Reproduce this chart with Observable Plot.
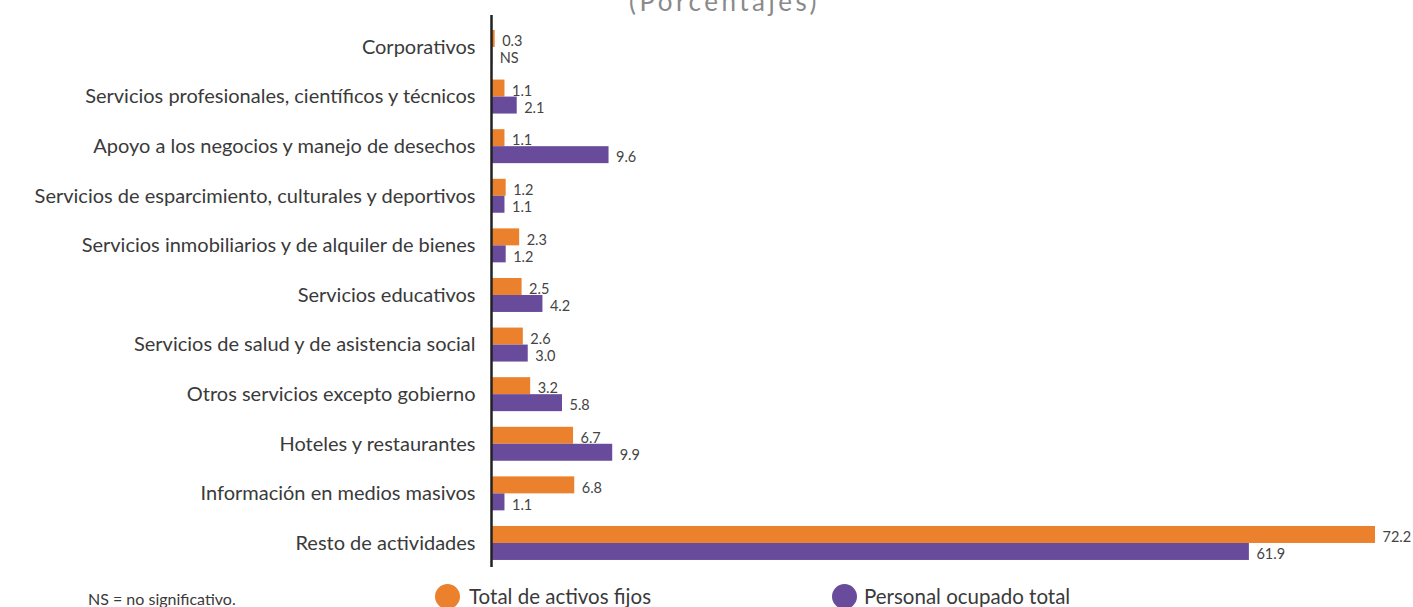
<!DOCTYPE html>
<html>
<head>
<meta charset="utf-8">
<script src="https://cdn.jsdelivr.net/npm/d3@7"></script>
<script src="https://cdn.jsdelivr.net/npm/@observablehq/plot@0.6"></script>
<style>
  html, body { margin: 0; padding: 0; background: #fff; overflow: hidden; }
  body { width: 1413px; height: 607px; position: relative; font-family: Lato, "Open Sans", sans-serif; }
  #title { position: absolute; left: 0; width: 1413px; top: -15px; text-align: center; padding-left: 36px; box-sizing: border-box;
           font-size: 26px; letter-spacing: 3.5px; color: #8a8a8a; z-index: 2; }
  #chart { position: absolute; left: 0; top: 0; }
  .leg { position: absolute; font-size: 20.5px; color: #3a3a3a; white-space: nowrap; }
  .dot { position: absolute; width: 25px; height: 25px; border-radius: 50%; }
  #note { position: absolute; left: 88px; top: 589px; font-size: 16px; color: #3a3a3a; }
</style>
</head>
<body>
<div id="title">(Porcentajes)</div>
<div id="chart"></div>
<div id="note">NS = no significativo.</div>
<div class="dot" style="left:435px; top:584px; background:#EB812D"></div>
<div class="leg" style="left:469px; top:584px">Total de activos fijos</div>
<div class="dot" style="left:832px; top:584px; background:#694B9C"></div>
<div class="leg" style="left:864px; top:584px">Personal ocupado total</div>
<script>
const categories = [
  "Corporativos",
  "Servicios profesionales, científicos y técnicos",
  "Apoyo a los negocios y manejo de desechos",
  "Servicios de esparcimiento, culturales y deportivos",
  "Servicios inmobiliarios y de alquiler de bienes",
  "Servicios educativos",
  "Servicios de salud y de asistencia social",
  "Otros servicios excepto gobierno",
  "Hoteles y restaurantes",
  "Información en medios masivos",
  "Resto de actividades"
];
const activosFijos = [0.3, 1.1, 1.1, 1.2, 2.3, 2.5, 2.6, 3.2, 6.7, 6.8, 72.2];
const personalOcupado = [0.1, 2.1, 9.6, 1.1, 1.2, 4.2, 3.0, 5.8, 9.9, 1.1, 61.9];
const personalLabels = ["NS", "2.1", "9.6", "1.1", "1.2", "4.2", "3.0", "5.8", "9.9", "1.1", "61.9"];

const ORANGE = "#EB812D";
const PURPLE = "#694B9C";

const dataA = categories.map((c, i) => ({cat: c, v: activosFijos[i], label: activosFijos[i].toFixed(1)}));
const dataP = categories.map((c, i) => ({cat: c, v: personalOcupado[i], label: personalLabels[i]}));

const bw = 34; // band width used for the paired bars
const chart = Plot.plot({
  width: 1413,
  height: 570,
  marginLeft: 491,
  marginRight: 38,
  marginTop: 15,
  marginBottom: 3,
  style: {fontFamily: "Lato, 'Open Sans', sans-serif", color: "#3a3a3a", background: "transparent"},
  x: {domain: [0, 72.2], axis: null},
  y: {domain: categories, paddingInner: 0.315, paddingOuter: 0.222, align: 0.68, round: false, label: null},
  marks: [
    Plot.axisY({tickSize: 0, tickPadding: 16, fontSize: 20, label: null, fill: "#3a3a3a"}),
    Plot.barX(dataA, {y: "cat", x: "v", fill: ORANGE, insetBottom: bw / 2}),
    Plot.barX(dataP, {y: "cat", x: "v", fill: PURPLE, insetTop: bw / 2}),
    Plot.text(dataA, {y: "cat", x: "v", text: "label", dx: 7, dy: -6, textAnchor: "start", fontSize: 14.5, fill: "#444"}),
    Plot.text(dataP, {y: "cat", x: "v", text: "label", dx: 7, dy: 11, textAnchor: "start", fontSize: 14.5, fill: "#444"}),
    Plot.ruleX([0], {stroke: "#222", strokeWidth: 2.5})
  ]
});
document.getElementById("chart").appendChild(chart);
</script>
</body>
</html>
